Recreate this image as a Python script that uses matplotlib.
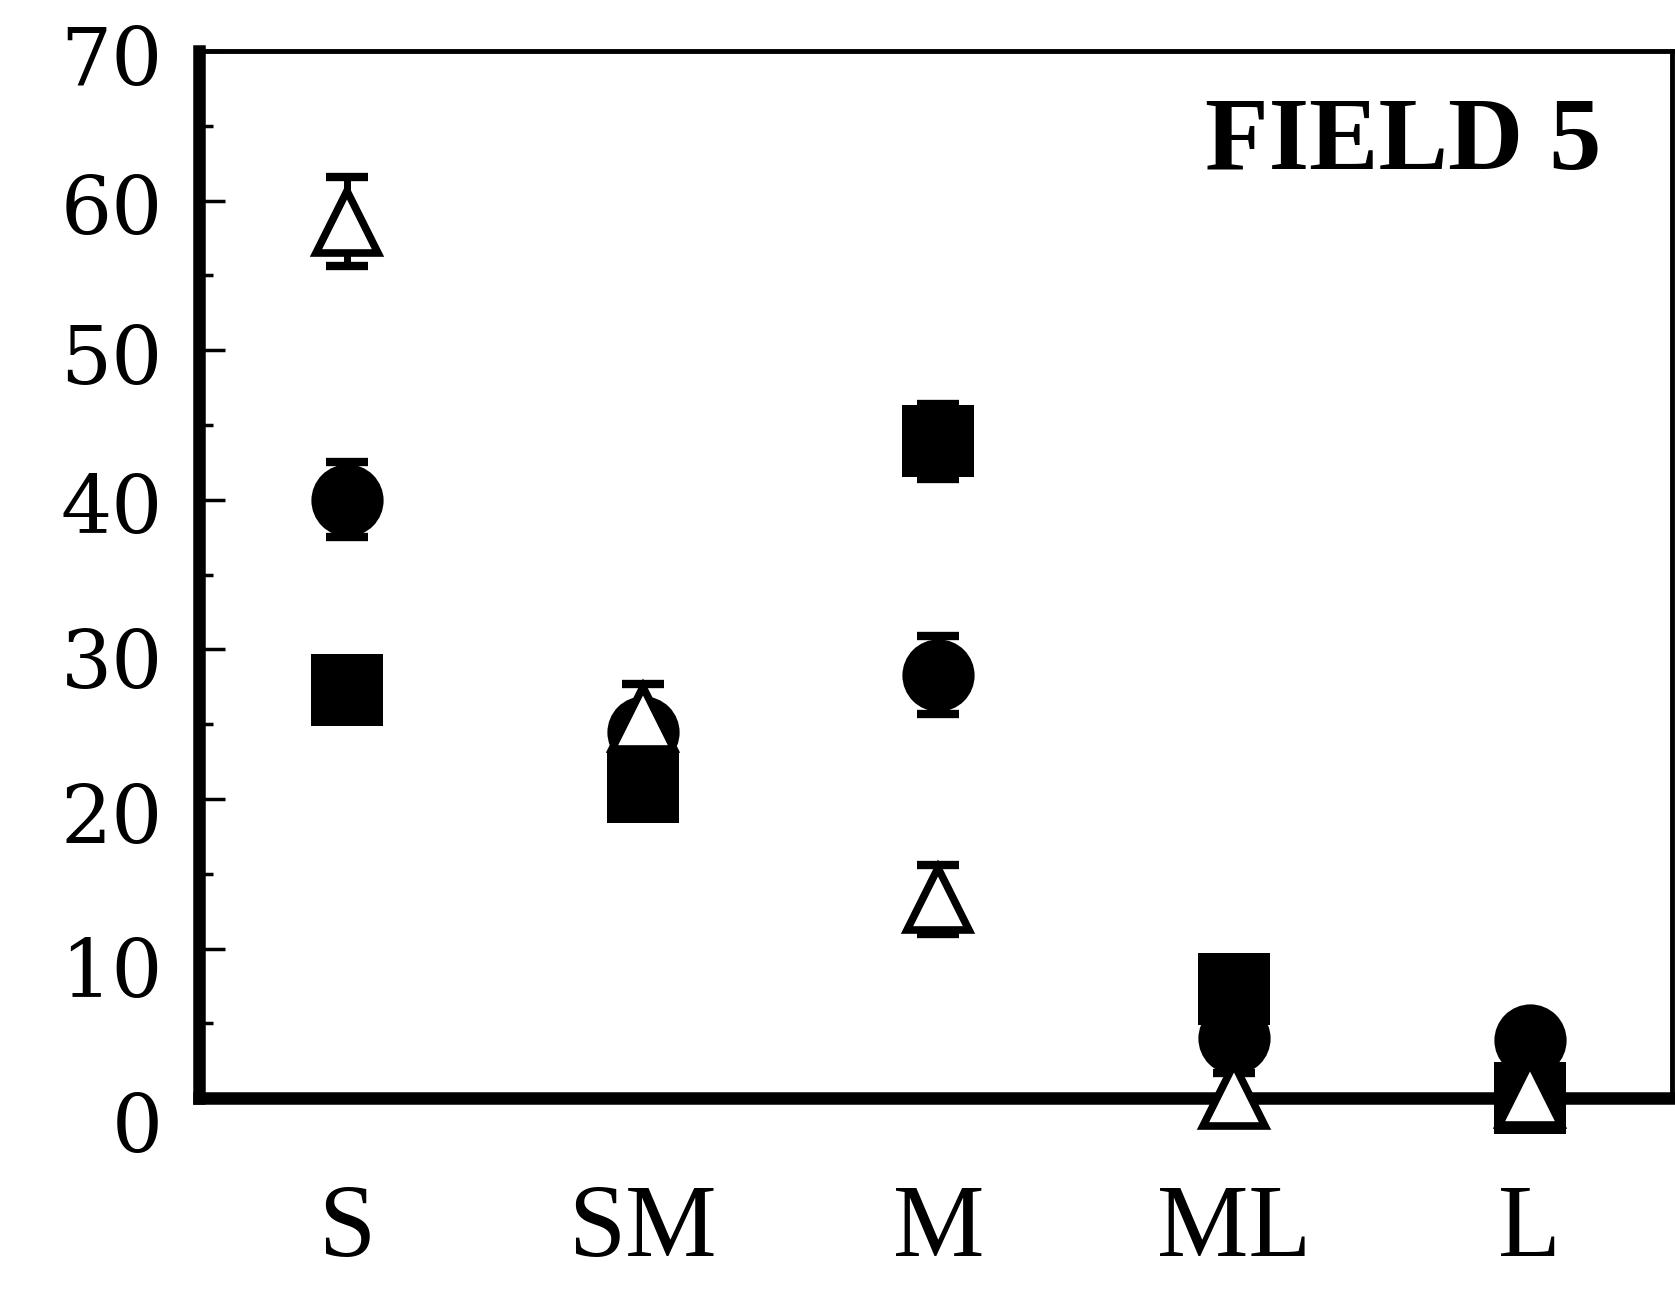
import numpy as np
import matplotlib
matplotlib.use('Agg')
from matplotlib import pyplot as plt
from matplotlib.ticker import MultipleLocator
from matplotlib.transforms import ScaledTranslation

plt.rcParams['font.family'] = ['Liberation Serif', 'DejaVu Serif']

# size classes on the x axis
categories = ['S', 'SM', 'M', 'ML', 'L']

# three series, with their error bars
square_vals = [27.3, 20.8, 43.9, 7.3, 0.0]
square_err = [1.5, 1.5, 2.5, 1.5, 1.0]
circle_vals = [40.0, 24.5, 28.3, 4.0, 3.9]
circle_err = [2.5, 1.5, 2.6, 1.5, 1.0]
triangle_vals = [58.6, 25.4, 13.3, 0.2, 0.3]
triangle_err = [3.0, 2.3, 2.3, 1.5, 1.0]

yticks = [0, 10, 20, 30, 40, 50, 60, 70]

x = np.arange(1, len(categories) + 1)

fig = plt.figure(figsize=(16.75, 12.98), dpi=100)
ax = fig.add_axes([0.1188, 0.154, 0.998 - 0.1188, 0.9607 - 0.154])

eb = dict(fmt='none', ecolor='black', capsize=15, capthick=6, elinewidth=5,
          clip_on=False)

ax.errorbar(x, square_vals, yerr=square_err, zorder=3, **eb)
ax.plot(x, square_vals, ls='none', marker='s', ms=52, color='black', mew=0,
        zorder=3.1, clip_on=False)

ax.errorbar(x, circle_vals, yerr=circle_err, zorder=4, **eb)
ax.plot(x, circle_vals, ls='none', marker='o', ms=52, color='black', mew=0,
        zorder=4.1, clip_on=False)

ax.errorbar(x, triangle_vals, yerr=triangle_err, zorder=5, **eb)
ax.plot(x, triangle_vals, ls='none', marker='^', ms=45, mfc='white', mec='black',
        mew=5.5, zorder=5.1, clip_on=False)

ax.set_xlim(0.5, 5.48)
ax.set_ylim(0, 70)
ax.set_yticks(yticks)
ax.yaxis.set_minor_locator(MultipleLocator(5))
ax.set_xticks(x)
ax.set_xticklabels(categories)

ax.tick_params(axis='y', which='major', direction='in', length=19, width=2.5,
               pad=26, right=False)
ax.tick_params(axis='y', which='minor', direction='in', length=10, width=2.5,
               right=False)
ax.tick_params(axis='x', length=0, labelsize=74, pad=62, top=False)

# the printed labels drift downwards a little towards the bottom
shift = [22, 17, 13, 8, 3, 3, 3, 3]
for lab, dy in zip(ax.get_yticklabels(), shift):
    lab.set_fontfamily('DejaVu Serif')
    lab.set_fontsize(58)
    lab.set_transform(lab.get_transform() +
                      ScaledTranslation(0, -dy * 1.068 / 100, fig.dpi_scale_trans))

ax.spines['left'].set_linewidth(9)
ax.spines['bottom'].set_linewidth(9)
ax.spines['top'].set_linewidth(3.5)
ax.spines['right'].set_linewidth(3.5)

ax.text(0.9525, 0.911, 'FIELD 5', transform=ax.transAxes, ha='right', va='center',
        fontsize=75, fontweight='bold')

fig.savefig('out.png', dpi=100)
